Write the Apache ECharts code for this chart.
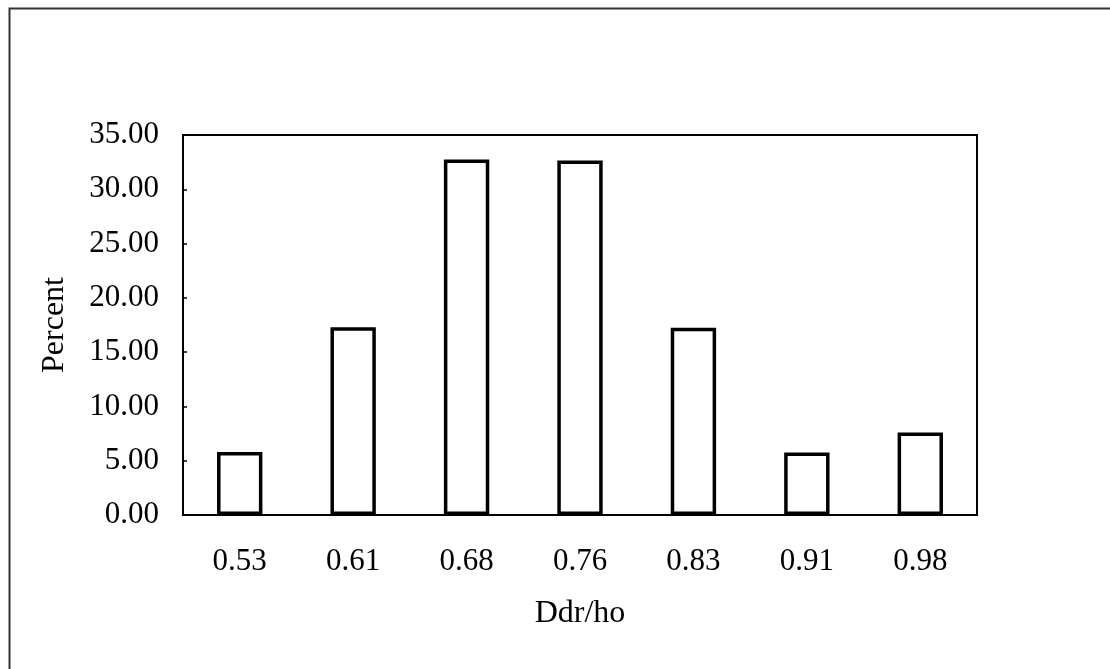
<!DOCTYPE html>
<html>
<head>
<meta charset="utf-8">
<script src="https://cdn.jsdelivr.net/npm/echarts@6/dist/echarts.min.js"></script>
<style>html,body{margin:0;padding:0;background:#fff;}#c{width:1110px;height:669px;}</style>
</head>
<body>
<div id="c"></div>
<script>
const categories = ['0.53', '0.61', '0.68', '0.76', '0.83', '0.91', '0.98'];
const percentValues = [5.8, 17.3, 32.75, 32.65, 17.25, 5.75, 7.6];
const yTicks = { min: 0, max: 35, interval: 5 };
const xName = 'Ddr/ho';
const yName = 'Percent';

const font = 'Liberation Serif';
const chart = echarts.init(document.getElementById('c'), null, { renderer: 'canvas' });
chart.setOption({
  backgroundColor: '#fff',
  animation: false,
  graphic: [{
    type: 'rect', left: 7, top: 6, silent: true,
    shape: { width: 1200, height: 800 },
    style: { fill: 'none', stroke: '#333', lineWidth: 2 }
  }],
  grid: { left: 183, top: 135, width: 794, height: 380, show: true, borderColor: '#000', borderWidth: 2, backgroundColor: 'transparent' },
  xAxis: {
    type: 'category', data: categories,
    name: xName, nameLocation: 'middle', nameGap: 83,
    nameTextStyle: { fontFamily: font, fontSize: 32, color: '#000' },
    axisLine: { lineStyle: { color: '#000', width: 2 } },
    axisTick: { show: false },
    axisLabel: { fontFamily: font, fontSize: 31, color: '#000', margin: 31 }
  },
  yAxis: {
    type: 'value', min: yTicks.min, max: yTicks.max, interval: yTicks.interval,
    name: yName, nameLocation: 'middle', nameGap: 112,
    nameTextStyle: { fontFamily: font, fontSize: 32, color: '#000' },
    axisLine: { show: true, lineStyle: { color: '#000', width: 2 } },
    axisTick: { show: true, inside: true, length: 4, lineStyle: { color: '#000', width: 1.5 } },
    splitLine: { show: false },
    axisLabel: { fontFamily: font, fontSize: 31, color: '#000', margin: 24, formatter: v => v.toFixed(2) }
  },
  series: [{
    type: 'bar', data: percentValues, barWidth: '40%',
    itemStyle: { color: '#fff', borderColor: '#000', borderWidth: 3.5 }
  }]
});
</script>
</body>
</html>
